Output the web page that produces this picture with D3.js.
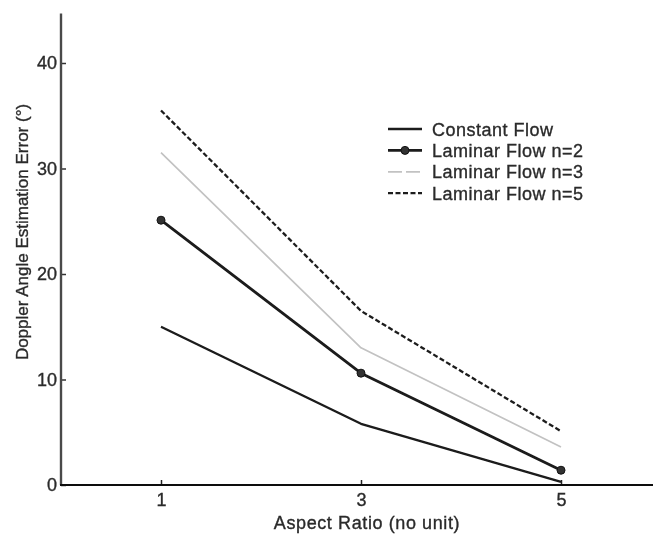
<!DOCTYPE html>
<html>
<head>
<meta charset="utf-8">
<script src="https://cdn.jsdelivr.net/npm/d3@7"></script>
<style>
  html, body { margin: 0; padding: 0; background: #fff; }
  svg { display: block; }
  text { font-family: "Liberation Sans", Arial, Helvetica, sans-serif; fill: #2a2a2a; stroke: #2a2a2a; stroke-width: 0.35px; }
</style>
</head>
<body>
<svg id="chart" width="653" height="536"></svg>
<script>
// Aspect ratios on the x axis
const aspectRatios = [1, 3, 5];

// Doppler angle estimation error (degrees) per flow profile
const constantFlow = [15.0, 5.8, 0.3];
const laminarN2 = [25.1, 10.6, 1.4];
const laminarN3 = [31.5, 13.0, 3.6];
const laminarN5 = [35.5, 16.5, 5.1];

const xTicks = [1, 3, 5];
const yTicks = [0, 10, 20, 30, 40];

const seriesNames = ["Constant Flow", "Laminar Flow n=2", "Laminar Flow n=3", "Laminar Flow n=5"];

const series = [
  { name: seriesNames[0], values: constantFlow, color: "#1a1a1a", width: 2.3, dash: null, legendDash: null, marker: false },
  { name: seriesNames[1], values: laminarN2, color: "#1a1a1a", width: 2.8, dash: null, legendDash: null, marker: true },
  { name: seriesNames[2], values: laminarN3, color: "#c2c2c2", width: 1.7, dash: null, legendDash: "14,4", marker: false },
  { name: seriesNames[3], values: laminarN5, color: "#1e1e1e", width: 2.3, dash: "5,2.5", legendDash: "5,2.5", marker: false }
];

const svg = d3.select("#chart");
const left = 61, bottom = 485;

const x = d3.scaleLinear().domain([0, 5.92]).range([left, 653]);
const y = d3.scaleLinear().domain([0, 40]).range([bottom, 63]);
const yTop = 44.7;

// soft look of the printed figure
const defs = svg.append("defs");
defs.append("filter").attr("id", "soft")
  .append("feGaussianBlur").attr("stdDeviation", 0.55);

const g = svg.append("g").attr("filter", "url(#soft)");

// y axis
const yAxis = g.append("g").attr("transform", `translate(${left},0)`)
  .call(d3.axisLeft(y).tickValues(yTicks).tickSize(-5).tickPadding(8).tickFormat(d3.format("d")));
yAxis.select(".domain").remove();
yAxis.selectAll(".tick line").attr("stroke", "#333").attr("stroke-width", 1.5);
yAxis.selectAll(".tick text").attr("font-size", 18).attr("x", -4)
  .style("font-family", "Liberation Sans, Arial, sans-serif").attr("fill", "#2a2a2a");
g.append("line")
  .attr("x1", left).attr("x2", left)
  .attr("y1", y(0)).attr("y2", y(yTop))
  .attr("stroke", "#4a4a4a").attr("stroke-width", 2.4);

// x axis
const xAxis = g.append("g").attr("transform", `translate(0,${bottom})`)
  .call(d3.axisBottom(x).tickValues(xTicks).tickSize(-5).tickPadding(10).tickFormat(d3.format("d")));
xAxis.select(".domain").remove();
xAxis.selectAll(".tick line").attr("stroke", "#222").attr("stroke-width", 1.5);
xAxis.selectAll(".tick text").attr("font-size", 18).attr("y", 8)
  .style("font-family", "Liberation Sans, Arial, sans-serif").attr("fill", "#2a2a2a");
g.append("line")
  .attr("x1", left - 1).attr("x2", 653)
  .attr("y1", bottom).attr("y2", bottom)
  .attr("stroke", "#111").attr("stroke-width", 2.2);

// axis titles
g.append("text")
  .attr("x", 367).attr("y", 529)
  .attr("text-anchor", "middle")
  .attr("font-size", 18).attr("letter-spacing", 0.6)
  .text("Aspect Ratio (no unit)");

g.append("text")
  .attr("transform", "translate(28,232) rotate(-90)")
  .attr("text-anchor", "middle")
  .attr("font-size", 17)
  .text("Doppler Angle Estimation Error (°)");

// series lines
const line = d3.line().x((d, i) => x(aspectRatios[i])).y(d => y(d));

series.forEach(s => {
  g.append("path")
    .datum(s.values)
    .attr("d", line)
    .attr("fill", "none")
    .attr("stroke", s.color)
    .attr("stroke-width", s.width)
    .attr("stroke-dasharray", s.dash)
    .attr("stroke-linejoin", "round");
  if (s.marker) {
    g.selectAll(null).data(s.values).enter().append("circle")
      .attr("cx", (d, i) => x(aspectRatios[i]))
      .attr("cy", d => y(d))
      .attr("r", 4)
      .attr("fill", "#333").attr("stroke", "#111").attr("stroke-width", 1);
  }
});

// legend
const legend = g.append("g");
series.forEach((s, i) => {
  const ly = 129 + i * 21.4;
  legend.append("line")
    .attr("x1", 388).attr("x2", 422)
    .attr("y1", ly).attr("y2", ly)
    .attr("stroke", s.color).attr("stroke-width", s.width)
    .attr("stroke-dasharray", s.legendDash);
  if (s.marker) {
    legend.append("circle").attr("cx", 405).attr("cy", ly).attr("r", 4)
      .attr("fill", "#333").attr("stroke", "#111");
  }
  legend.append("text")
    .attr("x", 432).attr("y", ly + 6.5)
    .attr("font-size", 18).attr("letter-spacing", 0.5)
    .text(s.name);
});
</script>
</body>
</html>
